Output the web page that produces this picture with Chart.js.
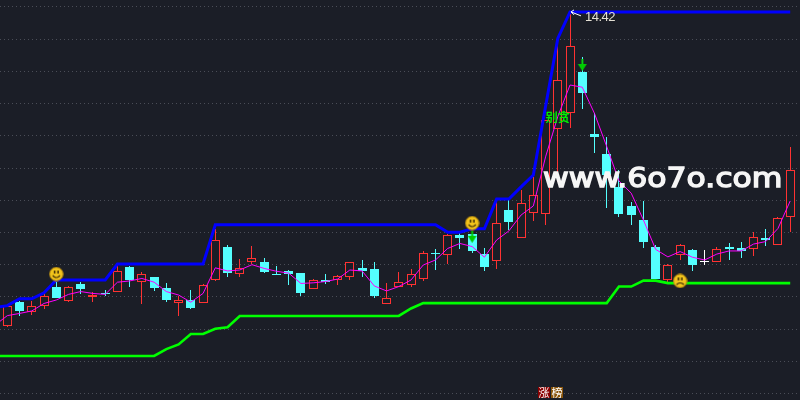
<!DOCTYPE html>
<html>
<head>
<meta charset="utf-8">
<style>
  html, body { margin: 0; padding: 0; background: #1b1e27; }
  canvas { display: block; }
</style>
</head>
<body>
<canvas id="kline" width="800" height="400"></canvas>
<script src="https://cdn.jsdelivr.net/npm/chart.js@4/dist/chart.umd.js"></script>
<script>
const opens = [4.38,5.14,4.83,5.02,5.62,5.18,5.71,5.30,5.41,5.47,6.26,5.79,5.94,5.58,5.11,5.20,5.11,5.85,6.90,6.04,6.43,6.42,6.03,6.13,6.06,5.56,5.84,5.83,5.95,6.22,6.19,5.08,5.62,5.69,5.88,6.70,6.65,7.28,7.31,6.66,6.46,8.08,7.17,7.97,7.94,10.68,11.17,12.50,10.51,9.87,8.82,8.21,7.76,6.90,5.85,6.63,6.80,6.46,6.43,6.90,6.85,6.84,7.18,6.97,7.87];
const closes = [5.02,4.86,5.00,5.34,5.26,5.61,5.55,5.36,5.38,6.12,5.84,6.02,5.58,5.20,5.19,4.94,5.67,7.11,6.07,6.21,6.53,6.10,6.00,6.04,5.42,5.83,5.78,5.96,6.41,6.13,5.33,5.25,5.77,6.02,6.69,6.68,7.27,7.18,6.77,6.26,7.65,7.70,8.29,8.55,10.95,12.23,13.32,11.83,10.43,9.21,7.96,7.93,7.07,5.87,6.31,6.95,6.32,6.43,6.82,6.84,6.78,7.21,7.12,7.81,9.35];
const highs = [5.04,5.17,5.17,5.39,5.79,5.65,5.78,5.45,5.52,6.29,6.29,6.10,5.94,5.74,5.33,5.52,5.71,7.47,6.96,6.51,6.93,6.54,6.29,6.16,6.06,5.87,6.03,6.00,6.41,6.48,6.42,5.74,6.10,6.19,6.77,6.83,7.31,7.41,7.31,6.86,8.40,8.40,8.72,9.14,10.95,13.33,14.42,12.99,11.19,10.43,9.36,8.34,8.37,6.96,6.35,6.99,6.83,6.80,6.90,7.02,7.06,7.38,7.47,7.86,10.09];
const lows = [4.35,4.70,4.72,4.92,5.26,5.15,5.39,5.15,5.33,5.47,5.63,5.07,5.49,5.14,4.69,4.91,5.11,5.81,5.94,5.94,6.35,6.06,6.00,5.68,5.33,5.56,5.71,5.68,5.84,5.94,5.26,5.08,5.62,5.62,5.81,6.16,6.35,6.83,6.70,6.13,6.19,7.44,7.17,7.74,7.60,8.99,10.71,11.32,9.91,8.13,7.87,7.61,6.87,5.87,5.78,6.48,6.13,6.32,6.43,6.48,6.54,6.61,6.93,6.97,7.38];
const whiteCandles = [57];

// line series start one bar left of the first candle so they reach the edge
const avgLine = [4.40,4.70,4.77,4.85,5.09,5.20,5.38,5.47,5.41,5.38,5.77,5.81,5.89,5.77,5.47,5.36,5.13,5.41,6.23,6.13,6.16,6.33,6.21,6.12,6.06,5.73,5.75,5.79,5.87,6.16,6.13,5.65,5.49,5.63,5.84,6.32,6.48,6.85,7.01,6.91,6.57,7.12,7.41,7.92,8.21,9.78,11.07,12.08,12.01,11.17,10.11,9.01,8.62,7.76,6.82,6.58,6.75,6.57,6.48,6.67,6.77,6.77,6.99,7.07,7.49,8.37];
const upperLine = [4.96,5.02,5.24,5.24,5.43,5.84,5.84,5.84,5.84,5.84,6.35,6.35,6.35,6.35,6.35,6.35,6.35,6.35,7.61,7.61,7.61,7.61,7.61,7.61,7.61,7.61,7.61,7.61,7.61,7.61,7.61,7.61,7.61,7.61,7.61,7.61,7.61,7.37,7.37,7.48,7.48,8.43,8.43,8.82,9.20,11.39,13.57,14.42,14.42,14.42,14.42,14.42,14.42,14.42,14.42,14.42,14.42,14.42,14.42,14.42,14.42,14.42,14.42,14.42,14.42,14.42];
const lowerLine = [3.41,3.41,3.41,3.41,3.41,3.41,3.41,3.41,3.41,3.41,3.41,3.41,3.41,3.41,3.63,3.78,4.11,4.11,4.28,4.33,4.69,4.69,4.69,4.69,4.69,4.69,4.69,4.69,4.69,4.69,4.69,4.69,4.69,4.69,4.93,5.10,5.10,5.10,5.10,5.10,5.10,5.10,5.10,5.10,5.10,5.10,5.10,5.10,5.10,5.10,5.10,5.63,5.63,5.82,5.82,5.74,5.74,5.74,5.74,5.74,5.74,5.74,5.74,5.74,5.74,5.74];

const gridLevels = [14.58,13.55,12.51,11.48,10.45,9.42,8.40,7.37,6.34,5.30,4.27,3.24,2.21];

const smileBars = [4, 38];
const smilePrices = [6.03, 7.66];
const frownBars = [55];
const frownPrices = [5.81];
const arrowBars = [38, 47];
const arrowPrices = [7.22, 12.72];

const peakBar = 46;
const peakPrice = 14.42;
const peakLabel = '14.42';
const warnLabel = '别贪';
const warnBar = 45;
const warnPrice = 11.03;
const badgeLabels = ['涨', '榜'];
const watermark = 'www.6o7o.com';

const BG = '#1b1e27', RED = '#ff3232', CYAN = '#54ffff';

function candleColor(i) {
  if (whiteCandles.includes(i)) return '#ffffff';
  return closes[i] >= opens[i] ? RED : CYAN;
}

function faceIcon(happy) {
  const c = document.createElement('canvas');
  c.width = c.height = 15;
  const g = c.getContext('2d');
  g.fillStyle = '#f2c41c';
  g.strokeStyle = '#b88a10';
  g.beginPath(); g.arc(7.5, 7.5, 6.7, 0, Math.PI * 2); g.fill(); g.stroke();
  g.fillStyle = '#3a2a05';
  g.fillRect(5, 4, 1.5, 3);
  g.fillRect(8.5, 4, 1.5, 3);
  g.strokeStyle = '#3a2a05';
  g.lineWidth = 1.2;
  g.beginPath();
  if (happy) g.arc(7.5, 7, 4, 0.15 * Math.PI, 0.85 * Math.PI);
  else g.arc(7.5, 14, 4.5, 1.2 * Math.PI, 1.8 * Math.PI);
  g.stroke();
  return c;
}

function arrowIcon() {
  const c = document.createElement('canvas');
  c.width = 11; c.height = 12;
  const g = c.getContext('2d');
  g.fillStyle = '#00cc00';
  g.fillRect(4.5, 0, 2, 6);
  g.beginPath(); g.moveTo(1, 5); g.lineTo(10, 5); g.lineTo(5.5, 12); g.closePath(); g.fill();
  return c;
}

const pts = (xs, ys) => xs.map((x, i) => ({ x, y: ys[i] }));
const lineData = ys => ys.map((y, i) => ({ x: i - 1, y }));

// candles and wicks sit on whole pixels, otherwise the 1px strokes go blurry
const snapBars = {
  id: 'snapBars',
  afterDatasetsUpdate(chart) {
    chart.data.datasets.forEach((ds, n) => {
      if (ds.type !== 'bar') return;
      chart.getDatasetMeta(n).data.forEach(el => {
        el.x = Math.round(el.x - 0.5) + 0.5;
        el.y = Math.round(el.y);
        el.base = Math.round(el.base);
      });
    });
  }
};

const labels = {
  id: 'labels',
  afterDatasetsDraw(chart) {
    const { ctx, scales: { x, y } } = chart;
    ctx.save();
    ctx.textBaseline = 'middle';

    const px = x.getPixelForValue(peakBar), py = y.getPixelForValue(peakPrice);
    ctx.strokeStyle = '#ffffff';
    ctx.lineWidth = 1;
    ctx.beginPath();
    ctx.moveTo(px + 11, py + 4); ctx.lineTo(px + 1, py);
    ctx.moveTo(px + 4, py - 2); ctx.lineTo(px + 1, py); ctx.lineTo(px + 4, py + 3);
    ctx.stroke();
    ctx.fillStyle = '#e4e0d4';
    ctx.font = '13px "Liberation Sans"';
    ctx.letterSpacing = '-0.5px';
    ctx.fillText(peakLabel, px + 15, py + 5.5);
    ctx.letterSpacing = '0px';

    ctx.fillStyle = '#00ff00';
    ctx.strokeStyle = '#00ff00';
    ctx.lineWidth = 0.3;
    ctx.font = '12px "Noto Sans CJK SC"';
    ctx.textAlign = 'center';
    ctx.fillText(warnLabel, x.getPixelForValue(warnBar), y.getPixelForValue(warnPrice));
    ctx.strokeText(warnLabel, x.getPixelForValue(warnBar), y.getPixelForValue(warnPrice));

    ctx.font = '11px "Noto Sans CJK SC"';
    ctx.fillStyle = '#8a0000';
    ctx.fillRect(538, 387, 12, 11);
    ctx.fillStyle = '#8a560c';
    ctx.fillRect(551, 387, 12, 11);
    ctx.fillStyle = '#ffffff';
    ctx.fillText(badgeLabels[0], 544, 392.5);
    ctx.fillText(badgeLabels[1], 557, 392.5);

    // stretched regular weight comes closer to the wide watermark than plain bold
    ctx.textAlign = 'left';
    ctx.translate(543, 180);
    ctx.scale(1.21, 1);
    ctx.font = '26px "DejaVu Sans"';
    ctx.fillStyle = '#f6f6f6';
    ctx.strokeStyle = '#f6f6f6';
    ctx.lineWidth = 1.3;
    ctx.fillText(watermark, 0, 0);
    ctx.strokeText(watermark, 0, 0);
    ctx.restore();
  }
};

new Chart(document.getElementById('kline'), {
  type: 'line',
  data: {
    datasets: [
      {
        type: 'bar', order: 6, barThickness: 1, grouped: false, inflateAmount: 0,
        data: opens.map((_, i) => ({ x: i, y: [lows[i], highs[i]] })),
        backgroundColor: opens.map((_, i) => candleColor(i)),
        borderWidth: 0
      },
      {
        type: 'bar', order: 5, barThickness: 9, grouped: false, inflateAmount: 0,
        data: opens.map((o, i) => ({ x: i, y: [o, closes[i]] })),
        backgroundColor: opens.map((_, i) => closes[i] >= opens[i] && !whiteCandles.includes(i) ? BG : candleColor(i)),
        borderColor: opens.map((_, i) => candleColor(i)),
        borderWidth: 1,
        borderSkipped: false
      },
      { order: 4, data: lineData(lowerLine), borderColor: '#00ff00', borderWidth: 2.6, pointRadius: 0 },
      { order: 3, data: lineData(upperLine), borderColor: '#0000ff', borderWidth: 3, pointRadius: 0 },
      { order: 2, data: lineData(avgLine), borderColor: '#ff00ff', borderWidth: 1, pointRadius: 0 },
      { order: 1, data: pts(smileBars, smilePrices), showLine: false, pointStyle: faceIcon(true), pointRadius: 8 },
      { order: 1, data: pts(frownBars, frownPrices), showLine: false, pointStyle: faceIcon(false), pointRadius: 8 },
      { order: 0, data: pts(arrowBars, arrowPrices), showLine: false, pointStyle: arrowIcon(), pointRadius: 6 }
    ]
  },
  options: {
    responsive: false,
    animation: false,
    events: [],
    layout: { padding: 0, autoPadding: false },
    plugins: { legend: { display: false }, tooltip: { enabled: false } },
    scales: {
      x: {
        type: 'linear', min: -0.6, max: 64.8, offset: false,
        display: false
      },
      y: {
        min: 2, max: 14.8,
        afterBuildTicks(axis) { axis.ticks = gridLevels.map(value => ({ value })); },
        ticks: { display: false },
        border: { display: false, dash: [1, 3] },
        grid: { color: '#4a4d57', lineWidth: 1, drawTicks: false }
      }
    }
  },
  plugins: [snapBars, labels]
});
</script>
</body>
</html>
